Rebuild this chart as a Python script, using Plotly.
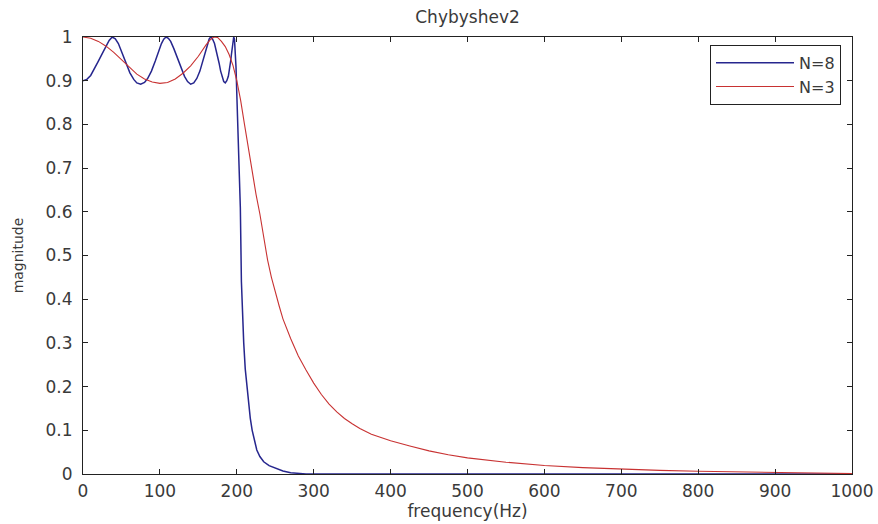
import plotly.graph_objects as go

# N=8 curve
f8 = [0, 5, 10, 15, 20, 25, 30, 34, 38, 42, 46, 51, 56, 61, 66, 70, 75, 80, 84, 89, 94, 98, 102,
      105, 108, 111, 114, 118, 122, 127, 132, 136, 140, 144, 148, 152, 156, 159, 162, 164, 166,
      168, 171, 174, 177, 179, 181, 183, 185, 187, 189, 191, 192, 193, 194, 195, 196, 197, 198,
      199, 200, 201, 202, 203, 204.6, 206, 207.5, 209, 211, 213, 215, 217.5, 220, 223, 226, 230,
      235, 242, 252, 260, 270, 280, 290, 400, 600, 800, 1000]
m8 = [0.90, 0.903, 0.912, 0.927, 0.945, 0.962, 0.98, 0.992, 1.0, 0.996, 0.985, 0.963, 0.94, 0.918,
      0.903, 0.895, 0.892, 0.896, 0.905, 0.922, 0.945, 0.966, 0.985, 0.995, 1.0, 0.997, 0.99, 0.974,
      0.955, 0.93, 0.91, 0.898, 0.892, 0.895, 0.905, 0.922, 0.945, 0.966, 0.985, 0.995, 1.0, 0.997,
      0.985, 0.965, 0.94, 0.922, 0.908, 0.898, 0.895, 0.9, 0.91, 0.93, 0.945, 0.96, 0.975, 0.99,
      1.0, 0.995, 0.97, 0.93, 0.87, 0.81, 0.75, 0.68, 0.61, 0.44, 0.365, 0.30, 0.24, 0.2, 0.16,
      0.128, 0.10, 0.075, 0.055, 0.04, 0.028, 0.019, 0.012, 0.007, 0.003, 0.001, 0.0, 0.0, 0.0,
      0.0, 0.0]

# N=3 curve
f3 = [0, 10, 20, 30, 40, 50, 60, 70, 80, 90, 100, 110, 120, 130, 140, 150, 160, 165, 170, 175,
      180, 185, 190, 195, 200, 205, 210, 215, 220, 225, 230, 235, 240, 245, 250, 255, 260, 265,
      270, 275, 280, 290, 300, 310, 320, 330, 340, 350, 360, 375, 390, 400, 425, 450, 475, 500,
      550, 600, 650, 700, 750, 800, 850, 900, 950, 1000]
m3 = [1.0, 0.997, 0.99, 0.979, 0.965, 0.948, 0.93, 0.915, 0.904, 0.897, 0.894, 0.896, 0.904,
      0.917, 0.934, 0.956, 0.982, 0.993, 1.0, 0.999, 0.99, 0.978, 0.96, 0.935, 0.9, 0.855, 0.8,
      0.745, 0.69, 0.64, 0.595, 0.54, 0.49, 0.45, 0.415, 0.385, 0.355, 0.33, 0.31, 0.29, 0.27,
      0.238, 0.208, 0.182, 0.16, 0.142, 0.127, 0.115, 0.104, 0.091, 0.082, 0.076, 0.064, 0.053,
      0.044, 0.037, 0.027, 0.0195, 0.0145, 0.0108, 0.0082, 0.0062, 0.0046, 0.0033, 0.002, 0.001]

x_ticks = [0, 100, 200, 300, 400, 500, 600, 700, 800, 900, 1000]
y_ticks = [0, 0.1, 0.2, 0.3, 0.4, 0.5, 0.6, 0.7, 0.8, 0.9, 1]
y_labels = ["0", "0.1", "0.2", "0.3", "0.4", "0.5", "0.6", "0.7", "0.8", "0.9", "1"]

fig = go.Figure()
fig.add_trace(go.Scatter(x=f8, y=m8, mode="lines", name="N=8",
                         line=dict(color="#26268e", width=1.5)))
fig.add_trace(go.Scatter(x=f3, y=m3, mode="lines", name="N=3",
                         line=dict(color="#c83232", width=1.1)))

font = "DejaVu Sans, Arial, sans-serif"
txt = "#3a3a3a"
fig.update_layout(
    width=878, height=524,
    margin=dict(l=83, r=26, t=37, b=50),
    paper_bgcolor="white", plot_bgcolor="white",
    font=dict(family=font, size=17, color=txt),
    title=dict(text="Chybyshev2", xref="paper", x=0.5, xanchor="center",
               yref="container", y=0.968, yanchor="middle",
               font=dict(size=17, color=txt)),
    showlegend=True,
    legend=dict(x=0.9857, y=0.982, xanchor="right", yanchor="top",
                bordercolor="#222", borderwidth=1, bgcolor="white",
                itemwidth=78, font=dict(size=16), tracegroupgap=0),
    xaxis=dict(range=[0, 1000], tickvals=x_ticks, ticks="inside", ticklen=5,
               tickcolor="#222", showline=True, linecolor="#222", linewidth=1,
               mirror="ticks", showgrid=False, zeroline=False, automargin=False,
               tickfont=dict(size=17),
               title=dict(text="frequency(Hz)", standoff=4, font=dict(size=17)),
               ticklabelstandoff=2),
    yaxis=dict(range=[0, 1], tickvals=y_ticks, ticktext=y_labels, ticks="inside", ticklen=5,
               tickcolor="#222", showline=True, linecolor="#222", linewidth=1,
               mirror="ticks", showgrid=False, zeroline=False, automargin=False,
               tickfont=dict(size=17),
               title=dict(text="magnitude", standoff=18, font=dict(size=14)),
               ticklabelstandoff=6),
)

fig.write_html("out.html")
